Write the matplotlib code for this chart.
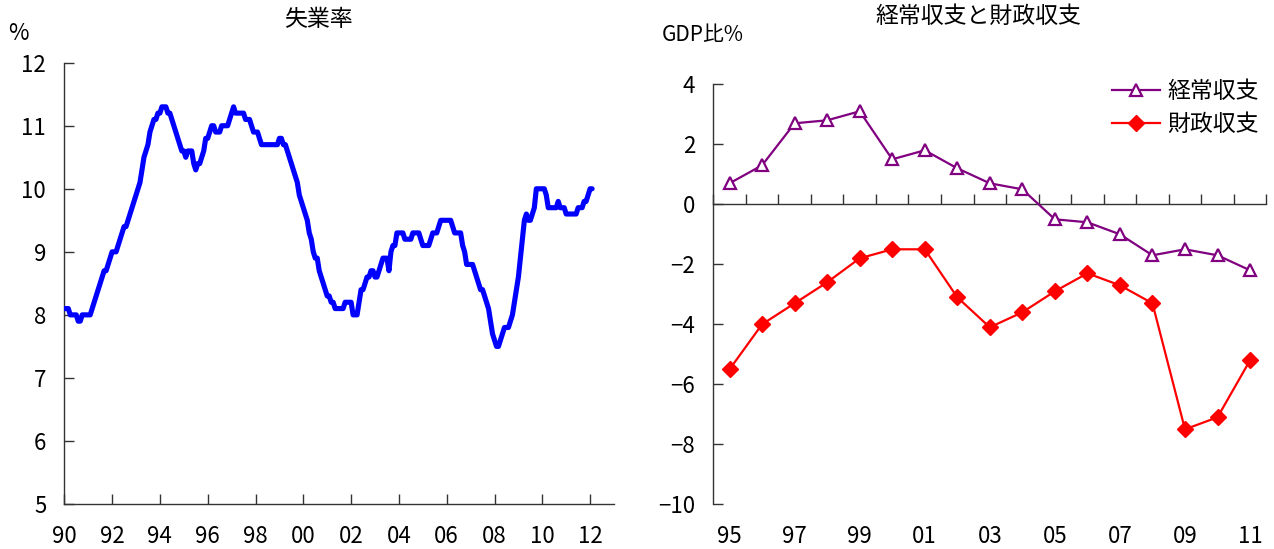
import numpy as np
import matplotlib
matplotlib.use("Agg")
import matplotlib.pyplot as plt

# ---- data -------------------------------------------------------------
# Monthly unemployment rate (%), January 1990 onwards
unemp_start_year = 1990
unemployment = [
    # 1990
    8.1, 8.1, 8.1, 8.0, 8.0, 8.0, 8.0, 7.9, 7.9, 8.0, 8.0, 8.0,
    # 1991
    8.0, 8.0, 8.1, 8.2, 8.3, 8.4, 8.5, 8.6, 8.7, 8.7, 8.8, 8.9,
    # 1992
    9.0, 9.0, 9.0, 9.1, 9.2, 9.3, 9.4, 9.4, 9.5, 9.6, 9.7, 9.8,
    # 1993
    9.9, 10.0, 10.1, 10.3, 10.5, 10.6, 10.7, 10.9, 11.0, 11.1, 11.1, 11.2,
    # 1994
    11.2, 11.3, 11.3, 11.3, 11.2, 11.2, 11.1, 11.0, 10.9, 10.8, 10.7, 10.6,
    # 1995
    10.6, 10.5, 10.6, 10.6, 10.6, 10.4, 10.3, 10.4, 10.4, 10.5, 10.6, 10.8,
    # 1996
    10.8, 10.9, 11.0, 11.0, 10.9, 10.9, 10.9, 11.0, 11.0, 11.0, 11.0, 11.1,
    # 1997
    11.2, 11.3, 11.2, 11.2, 11.2, 11.2, 11.2, 11.1, 11.1, 11.1, 11.0, 10.9,
    # 1998
    10.9, 10.9, 10.8, 10.7, 10.7, 10.7, 10.7, 10.7, 10.7, 10.7, 10.7, 10.7,
    # 1999
    10.8, 10.8, 10.7, 10.7, 10.6, 10.5, 10.4, 10.3, 10.2, 10.1, 9.9, 9.8,
    # 2000
    9.7, 9.6, 9.5, 9.3, 9.2, 9.0, 8.9, 8.9, 8.7, 8.6, 8.5, 8.4,
    # 2001
    8.3, 8.3, 8.2, 8.2, 8.1, 8.1, 8.1, 8.1, 8.1, 8.2, 8.2, 8.2,
    # 2002
    8.2, 8.0, 8.0, 8.0, 8.2, 8.4, 8.4, 8.5, 8.6, 8.6, 8.7, 8.7,
    # 2003
    8.6, 8.6, 8.7, 8.8, 8.9, 8.9, 8.9, 8.7, 9.0, 9.1, 9.1, 9.3,
    # 2004
    9.3, 9.3, 9.3, 9.2, 9.2, 9.2, 9.2, 9.3, 9.3, 9.3, 9.3, 9.2,
    # 2005
    9.1, 9.1, 9.1, 9.1, 9.2, 9.3, 9.3, 9.3, 9.4, 9.5, 9.5, 9.5,
    # 2006
    9.5, 9.5, 9.5, 9.4, 9.3, 9.3, 9.3, 9.3, 9.1, 9.0, 8.8, 8.8,
    # 2007
    8.8, 8.8, 8.7, 8.6, 8.5, 8.4, 8.4, 8.3, 8.2, 8.1, 7.9, 7.7,
    # 2008
    7.6, 7.5, 7.5, 7.6, 7.7, 7.8, 7.8, 7.8, 7.9, 8.0, 8.2, 8.4,
    # 2009
    8.6, 8.9, 9.2, 9.5, 9.6, 9.5, 9.5, 9.6, 9.7, 10.0, 10.0, 10.0,
    # 2010
    10.0, 10.0, 9.9, 9.7, 9.7, 9.7, 9.7, 9.7, 9.8, 9.7, 9.7, 9.7,
    # 2011
    9.6, 9.6, 9.6, 9.6, 9.6, 9.6, 9.7, 9.7, 9.7, 9.8, 9.8, 9.9,
    # 2012
    10.0, 10.0,
]
unemp_xticks = list(range(1990, 2013, 2))
unemp_yticks = [5, 6, 7, 8, 9, 10, 11, 12]

# Current account and fiscal balance (% of GDP), 1995-2011
balance_years = ["95", "96", "97", "98", "99", "00", "01", "02", "03",
                 "04", "05", "06", "07", "08", "09", "10", "11"]
current_account = [0.7, 1.3, 2.7, 2.8, 3.1, 1.5, 1.8, 1.2, 0.7,
                   0.5, -0.5, -0.6, -1.0, -1.7, -1.5, -1.7, -2.2]
fiscal_balance = [-5.5, -4.0, -3.3, -2.6, -1.8, -1.5, -1.5, -3.1, -4.1,
                  -3.6, -2.9, -2.3, -2.7, -3.3, -7.5, -7.1, -5.2]
balance_yticks = [4, 2, 0, -2, -4, -6, -8, -10]

# ---- styling ----------------------------------------------------------
DIGITS = ["Liberation Sans Narrow", "Noto Sans CJK JP", "DejaVu Sans"]
JP = ["Noto Sans CJK JP", "DejaVu Sans"]
AXIS_COLOR = "#333333"
TICK_SIZE = 16

W, H = 1274, 549
fig = plt.figure(figsize=(W / 100, H / 100), dpi=100)


def box(x0, y_top, x1, y_bot):
    """Axes rectangle from pixel coordinates (origin top-left)."""
    return [x0 / W, 1 - y_bot / H, (x1 - x0) / W, (y_bot - y_top) / H]


def style_axes(ax):
    for side in ("top", "right"):
        ax.spines[side].set_visible(False)
    for side in ("left", "bottom"):
        ax.spines[side].set_color(AXIS_COLOR)
        ax.spines[side].set_linewidth(1.0)
    ax.tick_params(direction="in", length=7, width=1.0, color=AXIS_COLOR,
                   labelsize=TICK_SIZE, labelcolor="black")
    for lab in ax.get_xticklabels() + ax.get_yticklabels():
        lab.set_family(DIGITS)


# ---- left: unemployment rate -----------------------------------------
ax1 = fig.add_axes(box(64.3, 62.7, 614, 504))
x_months = unemp_start_year + np.arange(len(unemployment)) / 12.0
ax1.plot(x_months, unemployment, color="#0000FF", lw=3.7,
         solid_capstyle="round", solid_joinstyle="round", zorder=3)
ax1.set_xlim(1990, 2013)
ax1.set_ylim(5, 12)
ax1.set_xticks(unemp_xticks)
ax1.set_xticklabels([f"{y % 100:02d}" for y in unemp_xticks])
ax1.set_yticks(unemp_yticks)
ax1.set_yticklabels([str(v) for v in unemp_yticks])
style_axes(ax1)
ax1.tick_params(axis="y", pad=13)
ax1.tick_params(axis="x", pad=15)

fig.text(318 / W, 1 - 20 / H, "失業率", family=JP, fontsize=16.5,
         ha="center", va="center")
fig.text(8 / W, 1 - 33 / H, "%", family=DIGITS, fontsize=16,
         ha="left", va="center")

# ---- right: current account & fiscal balance -------------------------
ax2 = fig.add_axes(box(713.3, 84.3, 1266.3, 504.3))
idx = np.arange(len(balance_years))
ax2.plot(idx, current_account, color="#800080", lw=1.6, marker="^",
         ms=9, mfc="white", mec="#800080", mew=1.6, label="経常収支",
         zorder=4, clip_on=False)
ax2.plot(idx, fiscal_balance, color="#FF0000", lw=1.6, marker="D",
         ms=8, mfc="#FF0000", mec="#FF0000", label="財政収支",
         zorder=4, clip_on=False)
ax2.set_xlim(-0.5, len(balance_years) - 0.5)
ax2.set_ylim(-10, 4)
ax2.set_yticks(balance_yticks)
ax2.set_yticklabels([f"{v}".replace("-", "\u2212") for v in balance_yticks])
style_axes(ax2)
ax2.tick_params(axis="y", pad=13)
# category boundaries marked on the zero line
ax2.spines["bottom"].set_position(("data", 0))
ax2.set_xticks(np.arange(len(balance_years) + 1) - 0.5)
ax2.tick_params(axis="x", labelbottom=False)

# year labels along the bottom edge
sec = ax2.secondary_xaxis(0.0)
sec.set_xticks(idx[::2])
sec.set_xticklabels(balance_years[::2])
sec.spines["bottom"].set_visible(False)
sec.tick_params(axis="x", length=0, pad=15, labelsize=TICK_SIZE)
for lab in sec.get_xticklabels():
    lab.set_family(DIGITS)

leg = ax2.legend(loc="upper left", bbox_to_anchor=(1112 / W, 1 - 80 / H),
                 bbox_transform=fig.transFigure, frameon=False,
                 prop={"family": JP, "size": 16.5}, handlelength=2.1,
                 handletextpad=0.3, labelspacing=0.45, borderpad=0,
                 borderaxespad=0)

fig.text(978 / W, 1 - 16 / H, "経常収支と財政収支", family=JP, fontsize=16.5,
         ha="center", va="center")
fig.text(662 / W, 1 - 35 / H, "GDP比%", family=DIGITS, fontsize=15,
         ha="left", va="center")

fig.savefig("out.png", dpi=100)
